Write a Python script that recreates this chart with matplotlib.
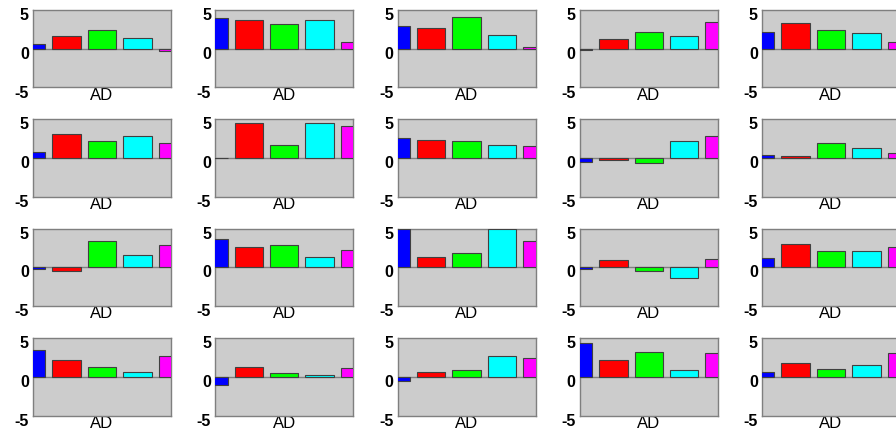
import matplotlib
matplotlib.use("Agg")
import matplotlib.pyplot as plt
import matplotlib.transforms as mtransforms

# bar values per panel, row by row (5 panels per row)
blue = [0.65, 3.97, 2.9, -0.15, 2.16,
        0.73, 0.0, 2.59, -0.52, 0.39,
        -0.2, 3.66, 4.96, -0.15, 1.2,
        3.49, -1.0, -0.6, 4.35, 0.65]
red = [1.64, 3.66, 2.7, 1.29, 3.36,
       3.06, 4.48, 2.28, -0.2, 0.26,
       -0.5, 2.67, 1.29, 0.95, 3.06,
       2.16, 1.25, 0.56, 2.2, 1.81]
green = [2.37, 3.19, 4.05, 2.11, 2.46,
         2.16, 1.64, 2.16, -0.6, 1.98,
         3.4, 2.93, 1.9, -0.52, 2.11,
         1.2, 0.43, 0.86, 3.19, 1.03]
cyan = [1.34, 3.71, 1.72, 1.64, 1.98,
        2.84, 4.48, 1.68, 2.2, 1.29,
        1.6, 1.29, 4.96, -1.42, 2.11,
        0.65, 0.26, 2.71, 0.86, 1.55]
magenta = [-0.35, 0.86, 0.2, 3.4, 0.86,
           1.94, 4.18, 1.55, 2.84, 0.65,
           2.84, 2.24, 3.4, 1.12, 2.67,
           2.67, 1.16, 2.37, 3.06, 3.1]

colors = ["#0000ff", "#ff0000", "#00ff00", "#00ffff", "#ff00ff"]
yticks = [-5, 0, 5]
xlabel = "AD"

W, H = 896, 436
fig = plt.figure(figsize=(W / 100, H / 100), dpi=100)

ax_w, ax_h = 138, 77.5
col_x0, col_step = 33, 182.25
row_tops = [10, 119.3, 228.6, 338]

for i in range(20):
    r, c = divmod(i, 5)
    left = col_x0 + c * col_step
    top = row_tops[r]
    ax = fig.add_axes([left / W, 1 - (top + ax_h) / H, ax_w / W, ax_h / H])
    ax.set_facecolor("#cccccc")
    vals = [blue[i], red[i], green[i], cyan[i], magenta[i]]
    ax.bar(range(5), vals, width=0.8, color=colors,
           edgecolor="#404040", linewidth=0.8, zorder=3)
    ax.axhline(0, color="#808080", linewidth=1.0, zorder=2)
    ax.set_xlim(0.05, 3.95)
    ax.set_ylim(-5, 5)
    ax.set_xticks([])
    ax.set_yticks(yticks)
    ax.set_yticklabels([str(t) for t in yticks], fontsize=11.5,
                       fontweight="bold", family="Liberation Sans")
    ax.tick_params(axis="y", length=0, pad=3)
    off = mtransforms.ScaledTranslation(0, -4 / 100, fig.dpi_scale_trans)
    for lbl in ax.get_yticklabels():
        lbl.set_transform(lbl.get_transform() + off)
    ax.set_xlabel(xlabel, fontsize=12, family="Liberation Sans", labelpad=0)
    for sp in ax.spines.values():
        sp.set_color("#7f7f7f")
        sp.set_linewidth(1.0)

fig.savefig("out.png", dpi=100)
